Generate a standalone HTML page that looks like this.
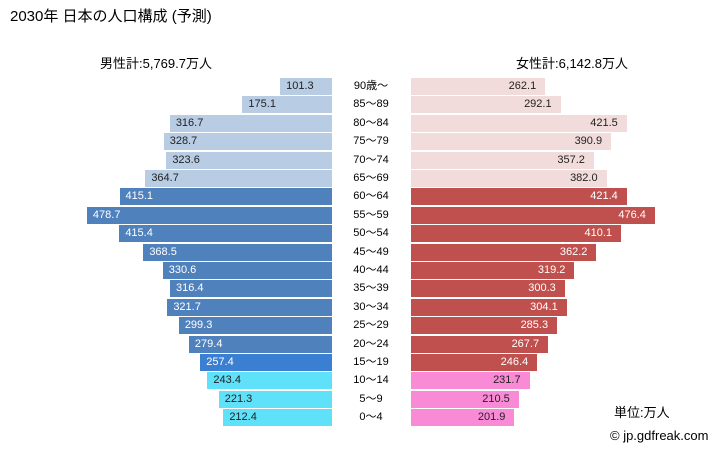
<!DOCTYPE html>
<html><head><meta charset="utf-8"><style>
body{margin:0;width:728px;height:451px;background:#fff;position:relative;overflow:hidden;font-family:"Liberation Sans","Noto Sans CJK JP",sans-serif;color:#000}
.t{position:absolute;white-space:nowrap}
.row{position:absolute;left:0;width:728px;height:17px}
.m,.f{position:absolute;top:0;height:17px;font-size:11px;line-height:17px;box-sizing:border-box}
.m{right:396px;padding-left:6px;text-align:left}
.f{left:411px;padding-right:9px;text-align:right}
.a{position:absolute;left:331px;width:80px;text-align:center;font-size:11px;line-height:17px}
.o1{background:#b8cce4;color:#222}.w1{background:#4f81bd;color:#fff}.k1{background:#3a7fd2;color:#fff}.y1{background:#5fe1f9;color:#222}
.o2{background:#f2dcdb;color:#222}.w2{background:#c0504d;color:#fff}.y2{background:#f98bd6;color:#222}
</style></head><body>
<div class="t" style="left:10px;top:5px;font-size:15px">2030年 日本の人口構成 (予測)</div>
<div class="t" style="left:100px;top:53px;font-size:13px">男性計:5,769.7万人</div>
<div class="t" style="left:516px;top:53px;font-size:13px">女性計:6,142.8万人</div>
<div class="t" style="left:614px;top:402px;font-size:13px">単位:万人</div>
<div class="t" style="left:610px;top:428px;font-size:13px">© jp.gdfreak.com</div>

<div class="row" style="top:78px"><div class="m o1" style="width:51.9px">101.3</div><div class="a">90歳～</div><div class="f o2" style="width:134.2px">262.1</div></div>
<div class="row" style="top:96.4px"><div class="m o1" style="width:89.6px">175.1</div><div class="a">85～89</div><div class="f o2" style="width:149.6px">292.1</div></div>
<div class="row" style="top:114.8px"><div class="m o1" style="width:162.2px">316.7</div><div class="a">80～84</div><div class="f o2" style="width:215.8px">421.5</div></div>
<div class="row" style="top:133.2px"><div class="m o1" style="width:168.3px">328.7</div><div class="a">75～79</div><div class="f o2" style="width:200.1px">390.9</div></div>
<div class="row" style="top:151.6px"><div class="m o1" style="width:165.7px">323.6</div><div class="a">70～74</div><div class="f o2" style="width:182.9px">357.2</div></div>
<div class="row" style="top:170px"><div class="m o1" style="width:186.7px">364.7</div><div class="a">65～69</div><div class="f o2" style="width:195.6px">382.0</div></div>
<div class="row" style="top:188.4px"><div class="m w1" style="width:212.5px">415.1</div><div class="a">60～64</div><div class="f w2" style="width:215.8px">421.4</div></div>
<div class="row" style="top:206.8px"><div class="m w1" style="width:245.1px">478.7</div><div class="a">55～59</div><div class="f w2" style="width:243.9px">476.4</div></div>
<div class="row" style="top:225.2px"><div class="m w1" style="width:212.7px">415.4</div><div class="a">50～54</div><div class="f w2" style="width:210px">410.1</div></div>
<div class="row" style="top:243.6px"><div class="m w1" style="width:188.7px">368.5</div><div class="a">45～49</div><div class="f w2" style="width:185.4px">362.2</div></div>
<div class="row" style="top:262px"><div class="m w1" style="width:169.3px">330.6</div><div class="a">40～44</div><div class="f w2" style="width:163.4px">319.2</div></div>
<div class="row" style="top:280.4px"><div class="m w1" style="width:162px">316.4</div><div class="a">35～39</div><div class="f w2" style="width:153.8px">300.3</div></div>
<div class="row" style="top:298.8px"><div class="m w1" style="width:164.7px">321.7</div><div class="a">30～34</div><div class="f w2" style="width:155.7px">304.1</div></div>
<div class="row" style="top:317.2px"><div class="m w1" style="width:153.2px">299.3</div><div class="a">25～29</div><div class="f w2" style="width:146.1px">285.3</div></div>
<div class="row" style="top:335.6px"><div class="m w1" style="width:143.1px">279.4</div><div class="a">20～24</div><div class="f w2" style="width:137.1px">267.7</div></div>
<div class="row" style="top:354px"><div class="m k1" style="width:131.8px">257.4</div><div class="a">15～19</div><div class="f w2" style="width:126.2px">246.4</div></div>
<div class="row" style="top:372.4px"><div class="m y1" style="width:124.6px">243.4</div><div class="a">10～14</div><div class="f y2" style="width:118.6px">231.7</div></div>
<div class="row" style="top:390.8px"><div class="m y1" style="width:113.3px">221.3</div><div class="a">5～9</div><div class="f y2" style="width:107.8px">210.5</div></div>
<div class="row" style="top:409.2px"><div class="m y1" style="width:108.7px">212.4</div><div class="a">0～4</div><div class="f y2" style="width:103.4px">201.9</div></div>
</body></html>
